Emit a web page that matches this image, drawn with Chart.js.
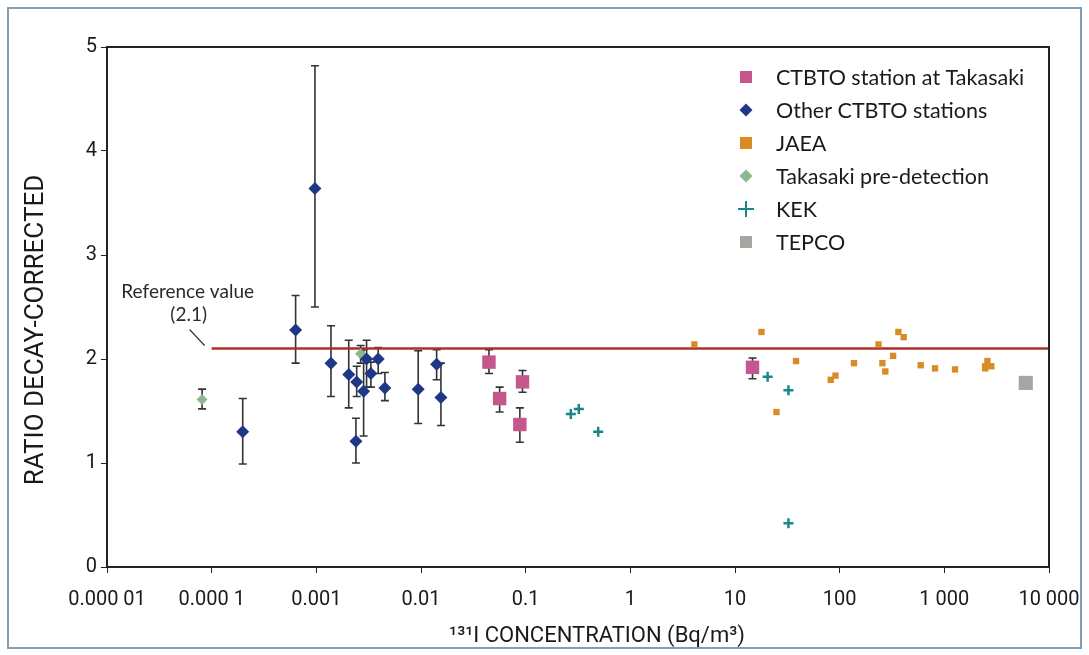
<!DOCTYPE html>
<html lang="en">
<head>
    <meta charset="UTF-8">
    <title>Ratio decay-corrected vs 131I concentration</title>
    <script src="https://cdn.jsdelivr.net/npm/chart.js"></script>
    <style>
        body {
            margin: 0;
            background: #ffffff;
        }
        .chart-container {
            width: 1089px;
            height: 655px;
        }
    </style>
</head>
<body>
    <div class="chart-container">
        <canvas id="ratioChart"></canvas>
    </div>

    <script>
        // Axis ticks
        const xTickValues = [0.00001, 0.0001, 0.001, 0.01, 0.1, 1, 10, 100, 1000, 10000];
        const xTickLabels = ['0.000 01', '0.000 1', '0.001', '0.01', '0.1', '1', '10', '100', '1 000', '10 000'];

        // CTBTO station at Takasaki
        const takasakiX = [0.0446, 0.0564, 0.0933, 0.088, 14.7];
        const takasakiY = [1.97, 1.62, 1.78, 1.37, 1.92];
        const takasakiLo = [1.86, 1.49, 1.68, 1.20, 1.81];
        const takasakiHi = [2.09, 1.73, 1.89, 1.53, 2.01];

        // Other CTBTO stations
        const otherX = [0.000198, 0.000634, 0.00097, 0.00138, 0.00204, 0.00243, 0.00239, 0.00283,
                        0.00302, 0.00332, 0.0039, 0.00452, 0.0094, 0.0141, 0.0155];
        const otherY = [1.30, 2.28, 3.64, 1.96, 1.85, 1.78, 1.21, 1.69, 2.00, 1.86, 2.00, 1.72, 1.71, 1.95, 1.63];
        const otherLo = [0.99, 1.96, 2.50, 1.64, 1.53, 1.64, 1.00, 1.26, 1.73, 1.73, 1.86, 1.60, 1.38, 1.80, 1.36];
        const otherHi = [1.62, 2.61, 4.82, 2.32, 2.18, 1.93, 1.43, 2.09, 2.18, 1.97, 2.11, 1.87, 2.08, 2.09, 1.96];

        // JAEA
        const jaeaX = [4.09, 17.9, 24.9, 38.3, 82.2, 91.2, 137, 235, 256, 273, 324, 364, 409,
                       595, 815, 1265, 2450, 2460, 2580, 2810];
        const jaeaY = [2.14, 2.26, 1.49, 1.98, 1.80, 1.84, 1.96, 2.14, 1.96, 1.88, 2.03, 2.26, 2.21,
                       1.94, 1.91, 1.90, 1.93, 1.91, 1.98, 1.93];

        // Takasaki pre-detection
        const preX = [0.000081, 0.00265];
        const preY = [1.61, 2.05];
        const preLo = [1.52, 1.96];
        const preHi = [1.71, 2.13];

        // KEK
        const kekX = [0.27, 0.322, 0.493, 20.5, 32.4, 32.4];
        const kekY = [1.47, 1.52, 1.30, 1.83, 1.70, 0.42];

        // TEPCO
        const tepcoX = [6000];
        const tepcoY = [1.77];

        // Reference value line
        const refValue = 2.1;
        const refRange = [0.0001, 10000];

        const axisFont = "Roboto, 'DejaVu Sans', sans-serif";
        const textFont = "Lato, 'Open Sans', sans-serif";

        function toPoints(xs, ys) {
            return xs.map((x, i) => ({ x: x, y: ys[i] }));
        }

        // Vertical error bars with caps, drawn beneath the markers
        const errorBars = {
            id: 'errorBars',
            beforeDatasetsDraw(chart) {
                const ctx = chart.ctx;
                const yScale = chart.scales.y;
                ctx.save();
                ctx.strokeStyle = '#333333';
                ctx.lineWidth = 1.6;
                chart.data.datasets.forEach((ds, di) => {
                    if (!ds.errLo) return;
                    const meta = chart.getDatasetMeta(di);
                    meta.data.forEach((pt, i) => {
                        const top = yScale.getPixelForValue(ds.errHi[i]);
                        const bot = yScale.getPixelForValue(ds.errLo[i]);
                        ctx.beginPath();
                        ctx.moveTo(pt.x, top);
                        ctx.lineTo(pt.x, bot);
                        ctx.moveTo(pt.x - 4, top);
                        ctx.lineTo(pt.x + 4, top);
                        ctx.moveTo(pt.x - 4, bot);
                        ctx.lineTo(pt.x + 4, bot);
                        ctx.stroke();
                    });
                });
                ctx.restore();
            }
        };

        function drawMarker(ctx, style, x, y, r, color, lw) {
            ctx.fillStyle = color;
            ctx.strokeStyle = color;
            ctx.beginPath();
            if (style === 'rect') {
                const s = Math.SQRT1_2 * r;
                ctx.rect(x - s, y - s, 2 * s, 2 * s);
                ctx.fill();
            } else if (style === 'rectRot') {
                ctx.moveTo(x, y - r);
                ctx.lineTo(x + r, y);
                ctx.lineTo(x, y + r);
                ctx.lineTo(x - r, y);
                ctx.closePath();
                ctx.fill();
            } else if (style === 'cross') {
                ctx.lineWidth = lw;
                ctx.moveTo(x - r, y);
                ctx.lineTo(x + r, y);
                ctx.moveTo(x, y - r);
                ctx.lineTo(x, y + r);
                ctx.stroke();
            }
        }

        // Frame, plot box, legend, reference note and titles
        const decorations = {
            id: 'decorations',
            afterDraw(chart) {
                const ctx = chart.ctx;
                const area = chart.chartArea;
                const xs = chart.scales.x;
                const ys = chart.scales.y;
                ctx.save();

                // outer frame
                ctx.strokeStyle = '#7f9db4';
                ctx.lineWidth = 2;
                ctx.strokeRect(8, 8, 1073, 640);

                // plot box
                ctx.strokeStyle = '#222222';
                ctx.lineWidth = 2;
                ctx.strokeRect(area.left, area.top, area.right - area.left, area.bottom - area.top);

                // legend
                ctx.font = '21.5px ' + textFont;
                ctx.textBaseline = 'middle';
                ctx.textAlign = 'left';
                let row = 0;
                chart.data.datasets.forEach(ds => {
                    if (!ds.legendSize) return;
                    const ly = 77 + row * 33;
                    drawMarker(ctx, ds.pointStyle, 746, ly, ds.legendSize, ds.backgroundColor, 2);
                    ctx.fillStyle = '#1a1a1a';
                    ctx.fillText(ds.label, 776, ly + 1);
                    row++;
                });

                // reference value note
                const rx = xs.getPixelForValue(refRange[0]);
                const ry = ys.getPixelForValue(refValue);
                ctx.fillStyle = '#2a2a2a';
                ctx.textAlign = 'center';
                ctx.font = '19px ' + textFont;
                ctx.fillText('Reference value', rx - 24, ry - 57);
                ctx.fillText('(' + refValue + ')', rx - 23, ry - 34);
                ctx.strokeStyle = '#2a2a2a';
                ctx.lineWidth = 1.3;
                ctx.beginPath();
                ctx.moveTo(rx - 22, ry - 19);
                ctx.lineTo(rx - 7, ry - 3);
                ctx.stroke();

                // x axis title
                ctx.font = '22px ' + axisFont;
                ctx.textAlign = 'center';
                ctx.fillStyle = '#1a1a1a';
                ctx.fillText('\u00B9\u00B3\u00B9I CONCENTRATION (Bq/m\u00B3)', 597, 636);

                // y axis title
                ctx.translate(36, 330);
                ctx.rotate(-Math.PI / 2);
                ctx.font = '26px ' + axisFont;
                ctx.fillText('RATIO DECAY-CORRECTED', 0, 0);
                ctx.restore();
            }
        };

        const ctx = document.getElementById('ratioChart').getContext('2d');

        new Chart(ctx, {
            type: 'scatter',
            data: {
                datasets: [
                    {
                        label: 'CTBTO station at Takasaki',
                        data: toPoints(takasakiX, takasakiY),
                        errLo: takasakiLo,
                        errHi: takasakiHi,
                        pointStyle: 'rect',
                        pointRadius: 9.5,
                        backgroundColor: '#c4588c',
                        borderWidth: 0,
                        legendSize: 8.5
                    },
                    {
                        label: 'Other CTBTO stations',
                        data: toPoints(otherX, otherY),
                        errLo: otherLo,
                        errHi: otherHi,
                        pointStyle: 'rectRot',
                        pointRadius: 6.5,
                        backgroundColor: '#1e3787',
                        borderWidth: 0,
                        legendSize: 6.5
                    },
                    {
                        label: 'JAEA',
                        data: toPoints(jaeaX, jaeaY),
                        pointStyle: 'rect',
                        pointRadius: 4.5,
                        backgroundColor: '#d98b26',
                        borderWidth: 0,
                        legendSize: 8.5
                    },
                    {
                        label: 'Takasaki pre-detection',
                        data: toPoints(preX, preY),
                        errLo: preLo,
                        errHi: preHi,
                        pointStyle: 'rectRot',
                        pointRadius: 5.5,
                        backgroundColor: '#8fb68c',
                        borderWidth: 0,
                        legendSize: 6.5
                    },
                    {
                        label: 'KEK',
                        data: toPoints(kekX, kekY),
                        pointStyle: 'cross',
                        pointRadius: 5,
                        backgroundColor: '#17878a',
                        borderColor: '#17878a',
                        borderWidth: 2.5,
                        legendSize: 8
                    },
                    {
                        label: 'TEPCO',
                        data: toPoints(tepcoX, tepcoY),
                        pointStyle: 'rect',
                        pointRadius: 10,
                        backgroundColor: '#a5a69f',
                        borderWidth: 0,
                        legendSize: 8.5
                    },
                    {
                        type: 'line',
                        label: 'Reference value',
                        data: refRange.map(x => ({ x: x, y: refValue })),
                        borderColor: '#a83428',
                        borderWidth: 2.5,
                        pointRadius: 0,
                        fill: false
                    }
                ]
            },
            options: {
                responsive: true,
                maintainAspectRatio: false,
                animation: false,
                layout: {
                    padding: { left: 0, top: 47, right: 40, bottom: 0 }
                },
                plugins: {
                    legend: { display: false },
                    tooltip: { enabled: false }
                },
                scales: {
                    x: {
                        type: 'logarithmic',
                        min: 0.00001,
                        max: 10000,
                        afterBuildTicks(scale) {
                            scale.ticks = xTickValues.map(v => ({ value: v }));
                        },
                        afterFit(scale) {
                            scale.height = 88;
                            scale.paddingLeft = 0;
                            scale.paddingRight = 0;
                        },
                        ticks: {
                            autoSkip: false,
                            maxRotation: 0,
                            padding: 15,
                            color: '#1a1a1a',
                            font: { family: axisFont, size: 20 },
                            callback: (value, index) => xTickLabels[index]
                        },
                        grid: {
                            drawOnChartArea: false,
                            drawTicks: true,
                            tickLength: 6,
                            color: '#222222'
                        },
                        border: { color: '#222222', width: 2 }
                    },
                    y: {
                        min: 0,
                        max: 5,
                        afterFit(scale) {
                            scale.width = 107;
                        },
                        ticks: {
                            stepSize: 1,
                            padding: 4,
                            color: '#1a1a1a',
                            font: { family: axisFont, size: 20 }
                        },
                        grid: {
                            drawOnChartArea: false,
                            drawTicks: true,
                            tickLength: 6,
                            color: '#222222'
                        },
                        border: { color: '#222222', width: 2 }
                    }
                }
            },
            plugins: [errorBars, decorations]
        });
    </script>
</body>
</html>
